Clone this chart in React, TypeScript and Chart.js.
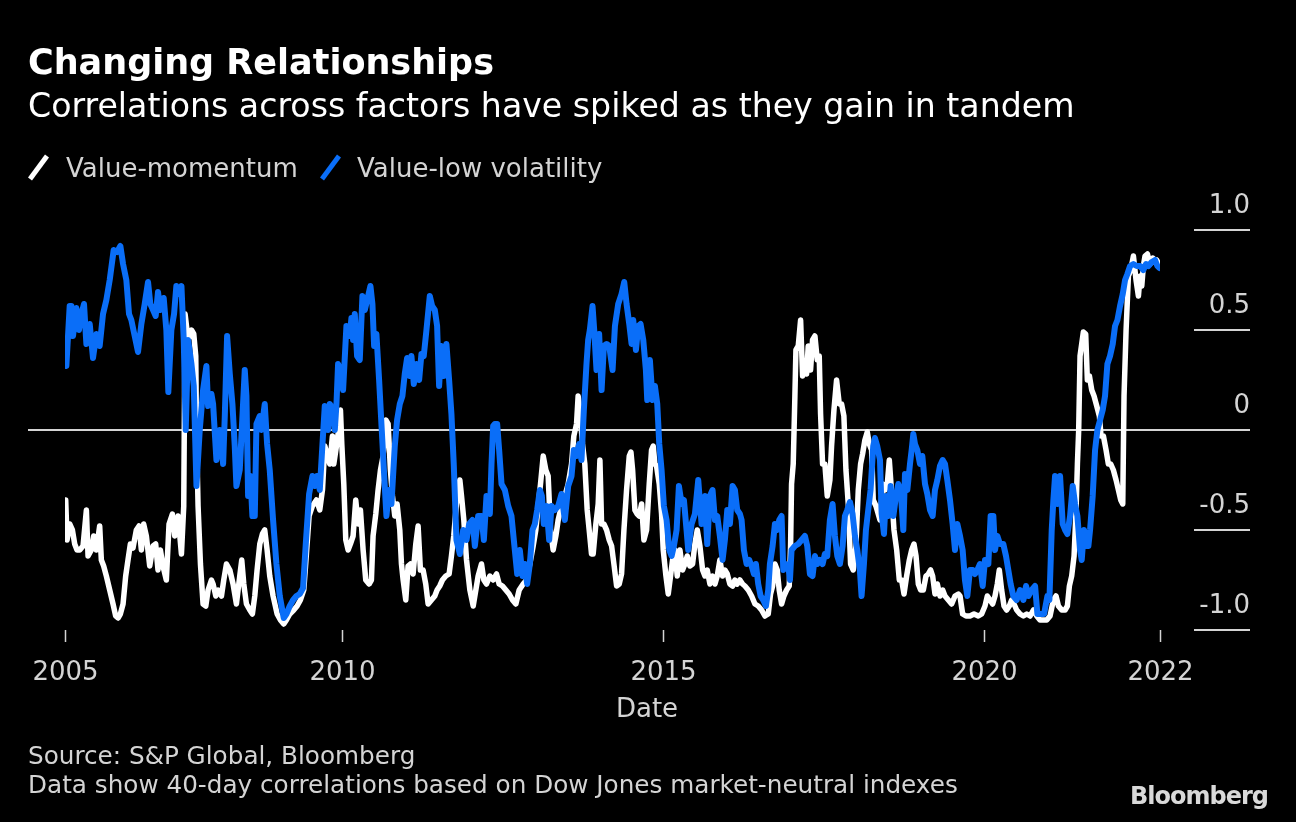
import React, { useEffect, useRef } from "react";
import { Chart, registerables } from "chart.js";

Chart.register(...registerables);

const TITLE = "Changing Relationships";
const SUBTITLE = "Correlations across factors have spiked as they gain in tandem";
const SERIES_NAMES = ["Value-momentum", "Value-low volatility"];
const SERIES_COLORS = ["#ffffff", "#0a6ef8"];
const SOURCE_LINES = [
  "Source: S&P Global, Bloomberg",
  "Data show 40-day correlations based on Dow Jones market-neutral indexes",
];
const X_AXIS_TITLE = "Date";

const Y_TICKS = [1, 0.5, 0, -0.5, -1];
const Y_TICK_LABELS = ["1.0", "0.5", "0", "-0.5", "-1.0"];
const X_START = 2005.69;
const X_END = 2022.74;
const X_TICKS = [X_START, 2010, 2015, 2020, X_END];
const X_TICK_LABELS = ["2005", "2010", "2015", "2020", "2022"];

// [decimal year, correlation]
const valueMomentum: [number, number][] = [
  [2005.69, -0.5], [2005.701, -0.35], [2005.722, -0.55], [2005.763, -0.47], [2005.805, -0.5], [2005.841, -0.57],
  [2005.877, -0.6], [2005.919, -0.6], [2005.971, -0.58], [2006.023, -0.4], [2006.049, -0.63], [2006.1, -0.6],
  [2006.137, -0.53], [2006.178, -0.6], [2006.23, -0.48], [2006.256, -0.65], [2006.292, -0.68], [2006.334, -0.73],
  [2006.386, -0.8], [2006.438, -0.87], [2006.479, -0.93], [2006.516, -0.94], [2006.552, -0.92], [2006.594, -0.87],
  [2006.635, -0.73], [2006.671, -0.65], [2006.708, -0.57], [2006.749, -0.59], [2006.801, -0.5], [2006.843, -0.48],
  [2006.879, -0.6], [2006.915, -0.47], [2006.957, -0.53], [2007.009, -0.68], [2007.061, -0.58], [2007.102, -0.57],
  [2007.138, -0.7], [2007.175, -0.6], [2007.216, -0.68], [2007.268, -0.75], [2007.31, -0.47], [2007.362, -0.42],
  [2007.398, -0.53], [2007.45, -0.43], [2007.503, -0.62], [2007.539, -0.38], [2007.56, 0.58], [2007.607, 0.45],
  [2007.659, 0.5], [2007.695, 0.48], [2007.726, 0.37], [2007.737, 0.0], [2007.762, -0.38], [2007.799, -0.67],
  [2007.84, -0.87], [2007.882, -0.88], [2007.918, -0.8], [2007.97, -0.75], [2007.996, -0.77], [2008.038, -0.83],
  [2008.074, -0.8], [2008.126, -0.83], [2008.162, -0.75], [2008.204, -0.67], [2008.256, -0.7], [2008.307, -0.77],
  [2008.359, -0.87], [2008.411, -0.73], [2008.442, -0.65], [2008.474, -0.77], [2008.515, -0.87], [2008.567, -0.9],
  [2008.608, -0.92], [2008.645, -0.83], [2008.681, -0.7], [2008.723, -0.57], [2008.764, -0.52], [2008.8, -0.5],
  [2008.837, -0.6], [2008.878, -0.73], [2008.93, -0.83], [2008.993, -0.92], [2009.044, -0.95], [2009.096, -0.97],
  [2009.138, -0.95], [2009.19, -0.92], [2009.252, -0.9], [2009.304, -0.88], [2009.356, -0.85], [2009.408, -0.8],
  [2009.449, -0.62], [2009.491, -0.43], [2009.543, -0.38], [2009.605, -0.35], [2009.657, -0.4], [2009.699, -0.3],
  [2009.735, -0.08], [2009.771, -0.12], [2009.813, -0.17], [2009.854, -0.03], [2009.875, -0.17], [2009.917, -0.08],
  [2009.958, 0.02], [2009.979, 0.1], [2010.0, -0.07], [2010.031, -0.27], [2010.062, -0.55], [2010.098, -0.6],
  [2010.134, -0.57], [2010.176, -0.53], [2010.217, -0.35], [2010.254, -0.47], [2010.29, -0.4], [2010.332, -0.6],
  [2010.373, -0.75], [2010.425, -0.77], [2010.461, -0.75], [2010.487, -0.53], [2010.529, -0.42], [2010.565, -0.3],
  [2010.602, -0.2], [2010.643, -0.13], [2010.685, 0.05], [2010.721, 0.03], [2010.757, -0.2], [2010.789, -0.33],
  [2010.825, -0.43], [2010.861, -0.37], [2010.903, -0.5], [2010.929, -0.67], [2010.955, -0.75], [2010.996, -0.85],
  [2011.032, -0.68], [2011.069, -0.67], [2011.11, -0.72], [2011.152, -0.57], [2011.188, -0.48], [2011.224, -0.7],
  [2011.266, -0.7], [2011.307, -0.77], [2011.344, -0.87], [2011.396, -0.85], [2011.448, -0.83], [2011.484, -0.8],
  [2011.525, -0.78], [2011.567, -0.75], [2011.619, -0.73], [2011.671, -0.72], [2011.707, -0.63], [2011.743, -0.53],
  [2011.785, -0.37], [2011.838, -0.25], [2011.864, -0.33], [2011.9, -0.45], [2011.942, -0.65], [2011.994, -0.8],
  [2012.046, -0.88], [2012.087, -0.8], [2012.123, -0.73], [2012.175, -0.67], [2012.212, -0.75], [2012.253, -0.77],
  [2012.305, -0.73], [2012.357, -0.75], [2012.409, -0.72], [2012.45, -0.77], [2012.502, -0.78], [2012.554, -0.8],
  [2012.606, -0.82], [2012.658, -0.85], [2012.71, -0.87], [2012.762, -0.8], [2012.824, -0.77], [2012.876, -0.75],
  [2012.928, -0.67], [2012.98, -0.58], [2013.021, -0.5], [2013.058, -0.38], [2013.094, -0.27], [2013.136, -0.13],
  [2013.177, -0.2], [2013.213, -0.23], [2013.25, -0.5], [2013.291, -0.6], [2013.333, -0.53], [2013.369, -0.45],
  [2013.421, -0.38], [2013.473, -0.33], [2013.525, -0.27], [2013.577, -0.17], [2013.613, -0.03], [2013.655, 0.03],
  [2013.68, 0.17], [2013.706, 0.1], [2013.748, -0.07], [2013.784, -0.17], [2013.821, -0.4], [2013.852, -0.5],
  [2013.888, -0.62], [2013.914, -0.62], [2013.956, -0.47], [2013.992, -0.37], [2014.019, -0.15], [2014.045, -0.47],
  [2014.081, -0.47], [2014.123, -0.5], [2014.164, -0.55], [2014.201, -0.58], [2014.237, -0.67], [2014.279, -0.78],
  [2014.32, -0.77], [2014.356, -0.72], [2014.393, -0.5], [2014.434, -0.3], [2014.476, -0.13], [2014.502, -0.11],
  [2014.528, -0.2], [2014.564, -0.4], [2014.6, -0.42], [2014.631, -0.43], [2014.668, -0.37], [2014.704, -0.55],
  [2014.746, -0.5], [2014.787, -0.27], [2014.823, -0.1], [2014.849, -0.08], [2014.875, -0.17], [2014.901, -0.18],
  [2014.943, -0.27], [2014.979, -0.42], [2015.005, -0.6], [2015.047, -0.73], [2015.083, -0.82], [2015.119, -0.73],
  [2015.15, -0.65], [2015.187, -0.6], [2015.223, -0.73], [2015.265, -0.6], [2015.306, -0.7], [2015.342, -0.67],
  [2015.379, -0.63], [2015.42, -0.68], [2015.462, -0.67], [2015.498, -0.57], [2015.535, -0.5], [2015.576, -0.58],
  [2015.618, -0.7], [2015.654, -0.73], [2015.69, -0.7], [2015.732, -0.77], [2015.773, -0.73], [2015.81, -0.77],
  [2015.846, -0.73], [2015.887, -0.65], [2015.929, -0.73], [2015.965, -0.7], [2016.002, -0.72], [2016.043, -0.77],
  [2016.085, -0.78], [2016.121, -0.75], [2016.157, -0.77], [2016.199, -0.75], [2016.24, -0.77], [2016.277, -0.78],
  [2016.329, -0.8], [2016.381, -0.83], [2016.433, -0.87], [2016.484, -0.88], [2016.536, -0.9], [2016.588, -0.93],
  [2016.64, -0.92], [2016.676, -0.82], [2016.708, -0.78], [2016.744, -0.67], [2016.78, -0.7], [2016.811, -0.8],
  [2016.848, -0.87], [2016.884, -0.83], [2016.926, -0.8], [2016.967, -0.78], [2016.988, -0.58], [2017.003, -0.27],
  [2017.029, -0.17], [2017.055, 0.17], [2017.071, 0.4], [2017.107, 0.42], [2017.144, 0.55], [2017.175, 0.27],
  [2017.211, 0.3], [2017.237, 0.28], [2017.263, 0.42], [2017.299, 0.3], [2017.33, 0.45], [2017.367, 0.47],
  [2017.403, 0.35], [2017.434, 0.37], [2017.455, 0.08], [2017.486, -0.17], [2017.522, -0.17], [2017.559, -0.33],
  [2017.6, -0.25], [2017.626, -0.08], [2017.663, 0.1], [2017.704, 0.25], [2017.746, 0.13], [2017.782, 0.13],
  [2017.818, 0.07], [2017.85, -0.2], [2017.886, -0.37], [2017.922, -0.67], [2017.964, -0.7], [2018.005, -0.58],
  [2018.042, -0.3], [2018.078, -0.17], [2018.109, -0.12], [2018.145, -0.05], [2018.182, -0.01], [2018.213, -0.07],
  [2018.249, -0.1], [2018.275, -0.35], [2018.317, -0.38], [2018.353, -0.42], [2018.38, -0.45], [2018.421, -0.27],
  [2018.458, -0.3], [2018.494, -0.27], [2018.525, -0.15], [2018.562, -0.32], [2018.598, -0.5], [2018.64, -0.6],
  [2018.681, -0.75], [2018.717, -0.75], [2018.754, -0.82], [2018.795, -0.73], [2018.837, -0.65], [2018.873, -0.6],
  [2018.909, -0.57], [2018.941, -0.63], [2018.977, -0.77], [2019.013, -0.8], [2019.055, -0.8], [2019.096, -0.73],
  [2019.133, -0.72], [2019.169, -0.7], [2019.2, -0.73], [2019.236, -0.82], [2019.273, -0.77], [2019.314, -0.83],
  [2019.356, -0.8], [2019.392, -0.83], [2019.444, -0.85], [2019.496, -0.87], [2019.548, -0.83], [2019.6, -0.82],
  [2019.626, -0.83], [2019.667, -0.92], [2019.719, -0.93], [2019.781, -0.93], [2019.844, -0.92], [2019.911, -0.93],
  [2019.963, -0.92], [2020.015, -0.88], [2020.051, -0.83], [2020.093, -0.85], [2020.134, -0.87], [2020.171, -0.83],
  [2020.207, -0.77], [2020.238, -0.7], [2020.274, -0.8], [2020.311, -0.88], [2020.352, -0.9], [2020.394, -0.88],
  [2020.43, -0.85], [2020.467, -0.87], [2020.508, -0.9], [2020.561, -0.92], [2020.613, -0.93], [2020.665, -0.92],
  [2020.717, -0.93], [2020.769, -0.9], [2020.821, -0.93], [2020.872, -0.95], [2020.924, -0.95], [2020.976, -0.95],
  [2021.028, -0.93], [2021.08, -0.85], [2021.121, -0.83], [2021.158, -0.88], [2021.21, -0.9], [2021.262, -0.9],
  [2021.298, -0.88], [2021.329, -0.78], [2021.365, -0.73], [2021.402, -0.63], [2021.433, -0.4], [2021.454, -0.17],
  [2021.474, 0.0], [2021.495, 0.37], [2021.521, 0.43], [2021.547, 0.49], [2021.583, 0.48], [2021.609, 0.25],
  [2021.641, 0.27], [2021.677, 0.2], [2021.713, 0.17], [2021.755, 0.12], [2021.796, 0.07], [2021.822, -0.03],
  [2021.859, -0.03], [2021.9, -0.1], [2021.936, -0.17], [2021.973, -0.17], [2022.014, -0.2], [2022.056, -0.25],
  [2022.092, -0.3], [2022.128, -0.35], [2022.16, -0.37], [2022.18, 0.17], [2022.212, 0.5], [2022.248, 0.77],
  [2022.284, 0.8], [2022.326, 0.87], [2022.367, 0.75], [2022.404, 0.67], [2022.43, 0.77], [2022.456, 0.72],
  [2022.481, 0.82], [2022.507, 0.87], [2022.544, 0.88], [2022.585, 0.83], [2022.627, 0.86], [2022.663, 0.84],
  [2022.689, 0.85], [2022.73, 0.82],
];

const valueLowVol: [number, number][] = [
  [2005.69, 0.4], [2005.711, 0.32], [2005.763, 0.62], [2005.789, 0.62], [2005.815, 0.47], [2005.867, 0.61],
  [2005.908, 0.5], [2005.945, 0.58], [2005.986, 0.63], [2006.023, 0.43], [2006.075, 0.53], [2006.126, 0.36],
  [2006.178, 0.48], [2006.23, 0.42], [2006.282, 0.58], [2006.334, 0.65], [2006.386, 0.75], [2006.448, 0.9],
  [2006.5, 0.89], [2006.552, 0.92], [2006.594, 0.83], [2006.645, 0.75], [2006.687, 0.58], [2006.723, 0.55],
  [2006.775, 0.47], [2006.827, 0.39], [2006.879, 0.53], [2006.931, 0.63], [2006.983, 0.74], [2007.019, 0.63],
  [2007.061, 0.6], [2007.102, 0.57], [2007.138, 0.69], [2007.175, 0.6], [2007.227, 0.66], [2007.268, 0.5],
  [2007.299, 0.19], [2007.346, 0.5], [2007.388, 0.58], [2007.424, 0.72], [2007.465, 0.68], [2007.503, 0.72],
  [2007.539, 0.45], [2007.57, 0.0], [2007.607, 0.45], [2007.659, 0.33], [2007.695, 0.22], [2007.737, -0.28],
  [2007.788, 0.0], [2007.84, 0.2], [2007.892, 0.32], [2007.918, 0.12], [2007.97, 0.18], [2007.996, 0.13],
  [2008.048, -0.15], [2008.1, 0.0], [2008.152, -0.17], [2008.178, 0.07], [2008.214, 0.47], [2008.256, 0.28],
  [2008.297, 0.13], [2008.333, -0.08], [2008.359, -0.28], [2008.411, -0.2], [2008.453, 0.07], [2008.489, 0.3],
  [2008.515, 0.17], [2008.541, -0.33], [2008.577, -0.23], [2008.608, -0.43], [2008.645, -0.43], [2008.671, 0.03],
  [2008.723, 0.07], [2008.749, 0.0], [2008.8, 0.13], [2008.837, -0.07], [2008.878, -0.2], [2008.93, -0.45],
  [2008.982, -0.67], [2009.034, -0.83], [2009.096, -0.94], [2009.138, -0.92], [2009.19, -0.88], [2009.242, -0.85],
  [2009.294, -0.83], [2009.345, -0.82], [2009.397, -0.79], [2009.439, -0.57], [2009.491, -0.32], [2009.543, -0.23],
  [2009.579, -0.28], [2009.615, -0.23], [2009.657, -0.3], [2009.699, -0.07], [2009.735, 0.12], [2009.787, 0.0],
  [2009.813, 0.13], [2009.865, 0.1], [2009.891, 0.0], [2009.917, 0.13], [2009.942, 0.33], [2009.979, 0.3],
  [2010.02, 0.2], [2010.072, 0.52], [2010.124, 0.47], [2010.15, 0.56], [2010.176, 0.45], [2010.202, 0.58],
  [2010.238, 0.37], [2010.28, 0.35], [2010.321, 0.67], [2010.358, 0.6], [2010.41, 0.67], [2010.446, 0.72],
  [2010.477, 0.63], [2010.503, 0.42], [2010.539, 0.48], [2010.581, 0.25], [2010.617, 0.03], [2010.669, -0.28],
  [2010.695, -0.43], [2010.737, -0.3], [2010.773, -0.37], [2010.825, -0.08], [2010.861, 0.05], [2010.903, 0.13],
  [2010.944, 0.17], [2010.98, 0.28], [2011.017, 0.36], [2011.058, 0.27], [2011.084, 0.37], [2011.121, 0.23],
  [2011.162, 0.33], [2011.204, 0.25], [2011.24, 0.38], [2011.276, 0.37], [2011.318, 0.5], [2011.37, 0.67],
  [2011.406, 0.62], [2011.448, 0.6], [2011.484, 0.52], [2011.515, 0.22], [2011.551, 0.42], [2011.588, 0.27],
  [2011.629, 0.43], [2011.671, 0.25], [2011.707, 0.08], [2011.743, -0.17], [2011.785, -0.55], [2011.838, -0.62],
  [2011.89, -0.5], [2011.942, -0.55], [2011.983, -0.47], [2012.035, -0.45], [2012.072, -0.58], [2012.123, -0.43],
  [2012.175, -0.43], [2012.212, -0.55], [2012.253, -0.33], [2012.305, -0.42], [2012.331, -0.17], [2012.357, 0.02],
  [2012.383, 0.03], [2012.419, 0.03], [2012.45, -0.1], [2012.487, -0.27], [2012.539, -0.3], [2012.591, -0.38],
  [2012.642, -0.43], [2012.694, -0.6], [2012.731, -0.72], [2012.772, -0.6], [2012.814, -0.73], [2012.85, -0.67],
  [2012.886, -0.77], [2012.928, -0.67], [2012.969, -0.5], [2013.006, -0.47], [2013.042, -0.4], [2013.084, -0.3],
  [2013.115, -0.33], [2013.146, -0.47], [2013.187, -0.38], [2013.229, -0.55], [2013.265, -0.38], [2013.317, -0.4],
  [2013.369, -0.38], [2013.421, -0.32], [2013.473, -0.45], [2013.525, -0.28], [2013.577, -0.23], [2013.613, -0.1],
  [2013.655, -0.13], [2013.696, -0.07], [2013.732, -0.15], [2013.769, 0.1], [2013.81, 0.33], [2013.836, 0.45],
  [2013.862, 0.5], [2013.904, 0.62], [2013.93, 0.5], [2013.966, 0.3], [2014.007, 0.48], [2014.045, 0.2],
  [2014.081, 0.42], [2014.123, 0.43], [2014.164, 0.42], [2014.216, 0.3], [2014.253, 0.52], [2014.304, 0.63],
  [2014.356, 0.68], [2014.398, 0.74], [2014.434, 0.63], [2014.476, 0.53], [2014.512, 0.43], [2014.538, 0.55],
  [2014.58, 0.4], [2014.616, 0.52], [2014.652, 0.53], [2014.694, 0.45], [2014.735, 0.3], [2014.756, 0.15],
  [2014.797, 0.35], [2014.839, 0.15], [2014.875, 0.22], [2014.912, 0.13], [2014.943, -0.07], [2014.979, -0.2],
  [2015.015, -0.38], [2015.057, -0.45], [2015.099, -0.6], [2015.135, -0.63], [2015.171, -0.58], [2015.213, -0.5],
  [2015.249, -0.28], [2015.291, -0.37], [2015.327, -0.35], [2015.368, -0.5], [2015.394, -0.6], [2015.446, -0.47],
  [2015.498, -0.42], [2015.55, -0.25], [2015.602, -0.47], [2015.654, -0.33], [2015.69, -0.57], [2015.732, -0.33],
  [2015.773, -0.3], [2015.81, -0.45], [2015.846, -0.43], [2015.887, -0.53], [2015.929, -0.65], [2015.965, -0.55],
  [2016.002, -0.4], [2016.043, -0.47], [2016.085, -0.28], [2016.121, -0.3], [2016.157, -0.4], [2016.199, -0.42],
  [2016.225, -0.45], [2016.261, -0.6], [2016.303, -0.67], [2016.344, -0.65], [2016.381, -0.68], [2016.417, -0.72],
  [2016.448, -0.67], [2016.484, -0.77], [2016.521, -0.83], [2016.562, -0.85], [2016.604, -0.88], [2016.64, -0.8],
  [2016.666, -0.67], [2016.708, -0.58], [2016.744, -0.47], [2016.78, -0.5], [2016.811, -0.45], [2016.848, -0.43],
  [2016.874, -0.7], [2016.915, -0.67], [2016.952, -0.68], [2016.978, -0.75], [2017.003, -0.6], [2017.055, -0.58],
  [2017.107, -0.57], [2017.159, -0.55], [2017.211, -0.53], [2017.247, -0.58], [2017.289, -0.72], [2017.33, -0.73],
  [2017.367, -0.63], [2017.403, -0.67], [2017.445, -0.65], [2017.486, -0.67], [2017.522, -0.62], [2017.559, -0.63],
  [2017.6, -0.45], [2017.642, -0.37], [2017.678, -0.53], [2017.715, -0.63], [2017.756, -0.67], [2017.798, -0.58],
  [2017.834, -0.43], [2017.87, -0.4], [2017.912, -0.36], [2017.953, -0.42], [2017.99, -0.53], [2018.026, -0.6],
  [2018.067, -0.7], [2018.093, -0.83], [2018.13, -0.67], [2018.161, -0.5], [2018.197, -0.4], [2018.233, -0.3],
  [2018.275, -0.08], [2018.301, -0.04], [2018.337, -0.08], [2018.38, -0.15], [2018.406, -0.42], [2018.442, -0.52],
  [2018.473, -0.33], [2018.51, -0.43], [2018.546, -0.28], [2018.588, -0.43], [2018.629, -0.33], [2018.665, -0.27],
  [2018.702, -0.3], [2018.743, -0.5], [2018.769, -0.22], [2018.806, -0.3], [2018.847, -0.17], [2018.873, -0.1],
  [2018.899, -0.02], [2018.925, -0.07], [2018.961, -0.1], [2019.003, -0.17], [2019.039, -0.13], [2019.081, -0.27],
  [2019.117, -0.32], [2019.159, -0.4], [2019.2, -0.43], [2019.236, -0.3], [2019.273, -0.25], [2019.314, -0.18],
  [2019.356, -0.15], [2019.392, -0.17], [2019.428, -0.25], [2019.47, -0.35], [2019.511, -0.47], [2019.548, -0.6],
  [2019.584, -0.47], [2019.626, -0.53], [2019.667, -0.6], [2019.703, -0.75], [2019.74, -0.83], [2019.781, -0.7],
  [2019.823, -0.7], [2019.859, -0.72], [2019.896, -0.7], [2019.937, -0.67], [2019.979, -0.78], [2020.015, -0.65],
  [2020.067, -0.67], [2020.103, -0.43], [2020.145, -0.43], [2020.171, -0.6], [2020.207, -0.53], [2020.248, -0.57],
  [2020.3, -0.57], [2020.342, -0.63], [2020.378, -0.7], [2020.414, -0.77], [2020.456, -0.83], [2020.508, -0.85],
  [2020.561, -0.8], [2020.613, -0.85], [2020.654, -0.78], [2020.691, -0.83], [2020.743, -0.8], [2020.795, -0.78],
  [2020.831, -0.92], [2020.883, -0.92], [2020.935, -0.92], [2020.987, -0.83], [2021.018, -0.85], [2021.054, -0.5],
  [2021.08, -0.35], [2021.106, -0.23], [2021.142, -0.37], [2021.184, -0.23], [2021.225, -0.47], [2021.262, -0.5],
  [2021.298, -0.52], [2021.34, -0.43], [2021.381, -0.28], [2021.417, -0.37], [2021.454, -0.43], [2021.495, -0.6],
  [2021.521, -0.65], [2021.557, -0.5], [2021.589, -0.58], [2021.625, -0.58], [2021.651, -0.5], [2021.692, -0.33],
  [2021.729, -0.1], [2021.765, 0.0], [2021.807, 0.05], [2021.848, 0.1], [2021.884, 0.17], [2021.921, 0.33],
  [2021.962, 0.37], [2022.004, 0.43], [2022.04, 0.52], [2022.077, 0.55], [2022.118, 0.62], [2022.16, 0.68],
  [2022.196, 0.75], [2022.232, 0.78], [2022.274, 0.82], [2022.326, 0.83], [2022.378, 0.82], [2022.43, 0.82],
  [2022.481, 0.8], [2022.523, 0.83], [2022.559, 0.82], [2022.611, 0.84], [2022.663, 0.85], [2022.699, 0.82],
  [2022.73, 0.81],
];

const FONT = '"DejaVu Sans", sans-serif';
const AXIS_COLOR = "#d4d4d4";

const decorPlugin = {
  id: "decor",
  beforeDraw(chart: any) {
    const ctx = chart.ctx as CanvasRenderingContext2D;
    const xs = chart.scales.x;
    const ys = chart.scales.y;
    const area = chart.chartArea;
    ctx.save();
    ctx.fillStyle = "#000000";
    ctx.fillRect(0, 0, chart.width, chart.height);

    // Title & subtitle
    ctx.textBaseline = "alphabetic";
    ctx.textAlign = "left";
    ctx.fillStyle = "#ffffff";
    ctx.font = `bold 35px ${FONT}`;
    ctx.fillText(TITLE, 28, 74);
    ctx.font = `33.2px ${FONT}`;
    ctx.fillText(SUBTITLE, 28, 117);

    // Legend
    const legendX = [30, 322];
    const legendTextX = [66, 357];
    ctx.lineWidth = 5;
    ctx.lineCap = "butt";
    SERIES_NAMES.forEach((name, i) => {
      ctx.strokeStyle = SERIES_COLORS[i];
      ctx.beginPath();
      ctx.moveTo(legendX[i], 179);
      ctx.lineTo(legendX[i] + 17, 156);
      ctx.stroke();
      ctx.fillStyle = AXIS_COLOR;
      ctx.font = `26px ${FONT}`;
      ctx.fillText(name, legendTextX[i], 177);
    });

    // Y grid / ticks on right
    ctx.strokeStyle = AXIS_COLOR;
    ctx.lineWidth = 2;
    ctx.fillStyle = AXIS_COLOR;
    ctx.font = `26px ${FONT}`;
    ctx.textAlign = "right";
    const rightEdge = area.right + 90;
    Y_TICKS.forEach((v, i) => {
      const py = Math.round(ys.getPixelForValue(v));
      ctx.beginPath();
      ctx.moveTo(v === 0 ? 28 : area.right + 34, py);
      ctx.lineTo(rightEdge, py);
      ctx.stroke();
      ctx.fillText(Y_TICK_LABELS[i], rightEdge, py - 17);
    });

    // X ticks
    ctx.lineWidth = 1.5;
    ctx.textAlign = "center";
    X_TICKS.forEach((v, i) => {
      const px = Math.round(xs.getPixelForValue(v)) + 0.5;
      ctx.beginPath();
      ctx.moveTo(px, area.bottom);
      ctx.lineTo(px, area.bottom + 12);
      ctx.stroke();
      ctx.fillText(X_TICK_LABELS[i], px, area.bottom + 50);
    });
    ctx.fillText(X_AXIS_TITLE, 647, 717);

    // Source notes
    ctx.textAlign = "left";
    ctx.font = `24.7px ${FONT}`;
    ctx.fillText(SOURCE_LINES[0], 28, 764);
    ctx.fillText(SOURCE_LINES[1], 28, 793);

    // Logo
    ctx.textAlign = "right";
    ctx.fillStyle = "#d9d9d9";
    ctx.font = `bold 24px ${FONT}`;
    (ctx as any).letterSpacing = "-1px";
    ctx.fillText("Bloomberg", 1268, 804);
    ctx.restore();
  },
};

export default function App() {
  const ref = useRef<HTMLCanvasElement | null>(null);

  useEffect(() => {
    document.body.style.margin = "0";
    document.body.style.background = "#000";
    const canvas = ref.current;
    if (!canvas) return;
    const toPoints = (arr: [number, number][]) => arr.map(([x, y]) => ({ x, y }));
    const chart = new Chart(canvas, {
      type: "line",
      data: {
        datasets: [
          {
            label: SERIES_NAMES[1],
            data: toPoints(valueLowVol),
            borderColor: SERIES_COLORS[1],
            borderWidth: 6,
            pointRadius: 0,
            tension: 0,
            borderJoinStyle: "round",
            borderCapStyle: "round",
            order: 0,
          },
          {
            label: SERIES_NAMES[0],
            data: toPoints(valueMomentum),
            borderColor: SERIES_COLORS[0],
            borderWidth: 5.5,
            pointRadius: 0,
            tension: 0,
            borderJoinStyle: "round",
            borderCapStyle: "round",
            order: 1,
          },
        ],
      },
      options: {
        responsive: false,
        animation: false,
        events: [],
        layout: { padding: { left: 65, right: 136, top: 230, bottom: 192 } },
        scales: {
          x: { type: "linear", min: X_START, max: X_END, display: false },
          y: { type: "linear", min: -1, max: 1, display: false },
        },
        plugins: {
          legend: { display: false },
          tooltip: { enabled: false },
          title: { display: false },
        },
      },
      plugins: [decorPlugin],
    } as any);
    return () => chart.destroy();
  }, []);

  return (
    <div style={{ position: "absolute", left: 0, top: 0, width: 1296, height: 822, background: "#000" }}>
      <canvas ref={ref} width={1296} height={822} style={{ display: "block", width: 1296, height: 822 }} />
    </div>
  );
}
